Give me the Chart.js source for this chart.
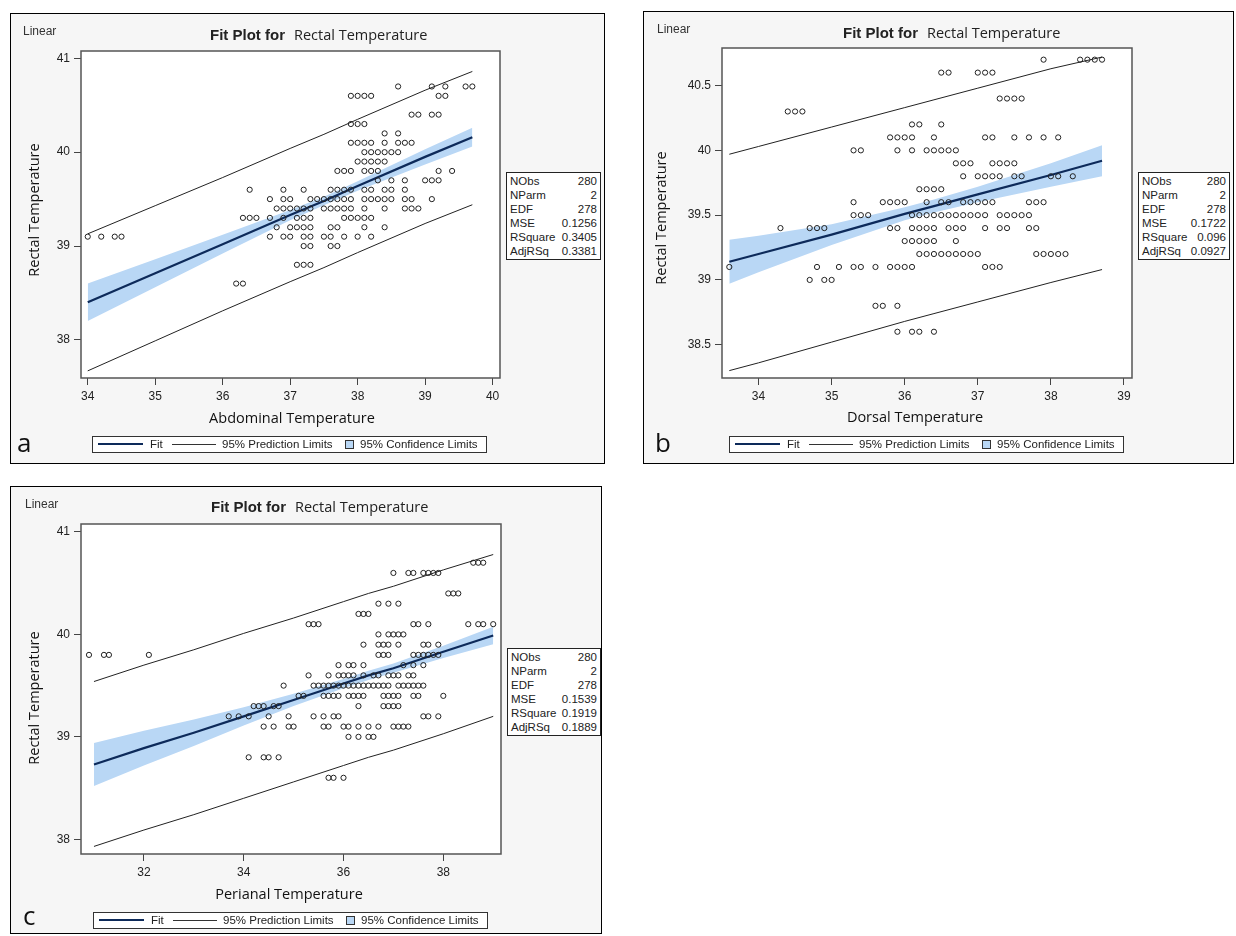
<!DOCTYPE html>
<html>
<head>
<meta charset="utf-8">
<script src="https://cdn.jsdelivr.net/npm/chart.js@4.4.0/dist/chart.umd.min.js"></script>
<style>
  body { margin: 0; background: #fff; width: 1236px; height: 936px; position: relative; overflow: hidden;
         font-family: "Liberation Sans", Arial, sans-serif; color: #222; }
  .panel { position: absolute; box-sizing: border-box; border: 1px solid #000; background: #f6f6f6; }
  .panel canvas { position: absolute; left: 0; top: 0; }
  .txt { position: absolute; white-space: nowrap; }
  .linear { font-size: 12px; color: #333; }
  .title b { font: bold 15px "Liberation Sans", Arial, sans-serif; }
  .title span { font: 14.5px "Open Sans", sans-serif; margin-left: 9px; }
  .axt { font: 14.5px "Open Sans", sans-serif; color: #111; }
  .letter { font: 26px "Open Sans", sans-serif; line-height: 26px; color: #111; }
  .stats { position: absolute; box-sizing: border-box; border: 1px solid #222; background: #fff;
           font-size: 11.5px; padding: 1px 3px; }
  .stats div { display: flex; justify-content: space-between; height: 14px; line-height: 14px; }
  .legend { position: absolute; box-sizing: border-box; width: 395px; height: 17px; border: 1px solid #333;
            background: #fff; font-size: 11.5px; }
  .legend > * { position: absolute; }
</style>
</head>
<body>
<script>
// Fit plots: rectal temperature against three skin sites
const NAVY = "#0d2a5a";
const BAND = "#b9d7f5";

const statNames = ["NObs", "NParm", "EDF", "MSE", "RSquare", "AdjRSq"];
const statsA = ["280", "2", "278", "0.1256", "0.3405", "0.3381"];
const statsB = ["280", "2", "278", "0.1722", "0.096", "0.0927"];
const statsC = ["280", "2", "278", "0.1539", "0.1919", "0.1889"];

// Panel a - abdominal temperature
const abdXTicks = [34, 35, 36, 37, 38, 39, 40];
const abdYTicks = [38, 39, 40, 41];
const abdRowY = [40.7, 40.6, 40.4, 40.3, 40.2, 40.1, 40.0, 39.9, 39.8, 39.7, 39.6, 39.5, 39.4, 39.3, 39.2, 39.1, 39.0, 38.8, 38.6];
const abdRowX = [
  [38.6, 39.1, 39.3, 39.6, 39.7],
  [37.9, 38.0, 38.1, 38.2, 39.2, 39.3],
  [38.8, 38.9, 39.1, 39.2],
  [37.9, 38.0, 38.1],
  [38.4, 38.6],
  [37.9, 38.0, 38.1, 38.2, 38.4, 38.6, 38.7, 38.8],
  [38.1, 38.2, 38.3, 38.4, 38.5, 38.6],
  [38.0, 38.1, 38.2, 38.3, 38.4],
  [37.7, 37.8, 37.9, 38.1, 38.2, 38.3, 39.2, 39.4],
  [38.3, 38.5, 38.7, 39.0, 39.1, 39.2],
  [36.4, 36.9, 37.2, 37.6, 37.7, 37.8, 37.9, 38.1, 38.2, 38.4, 38.5, 38.7],
  [36.7, 36.9, 37.0, 37.3, 37.4, 37.5, 37.6, 37.7, 37.8, 37.9, 38.1, 38.2, 38.3, 38.4, 38.5, 38.7, 38.8, 39.1],
  [36.8, 36.9, 37.0, 37.1, 37.2, 37.3, 37.5, 37.6, 37.7, 37.8, 37.9, 38.1, 38.4, 38.7, 38.8, 38.9],
  [36.3, 36.4, 36.5, 36.7, 36.9, 37.1, 37.2, 37.3, 37.8, 37.9, 38.0, 38.1, 38.2],
  [36.8, 37.0, 37.1, 37.2, 37.3, 37.6, 37.7, 38.1, 38.4],
  [34.0, 34.2, 34.4, 34.5, 36.7, 36.9, 37.0, 37.2, 37.3, 37.5, 37.6, 37.8, 38.0, 38.2],
  [37.2, 37.3, 37.6, 37.7],
  [37.1, 37.2, 37.3],
  [36.2, 36.3]
];
const abdFitX = [34, 35, 36, 37, 37.5, 38, 39, 39.7];
const abdFit = [38.40, 38.71, 39.02, 39.33, 39.48, 39.64, 39.95, 40.16];
const abdClLow = [38.20, 38.56, 38.92, 39.275, 39.435, 39.59, 39.87, 40.06];
const abdClHigh = [38.60, 38.86, 39.12, 39.385, 39.525, 39.69, 40.03, 40.26];
const abdPlLow = [37.67, 37.99, 38.31, 38.62, 38.77, 38.93, 39.24, 39.44];
const abdPlHigh = [39.13, 39.43, 39.73, 40.04, 40.19, 40.35, 40.66, 40.86];

// Panel b - dorsal temperature
const dorXTicks = [34, 35, 36, 37, 38, 39];
const dorYTicks = [38.5, 39, 39.5, 40, 40.5];
const dorRowY = [40.7, 40.6, 40.4, 40.3, 40.2, 40.1, 40.0, 39.9, 39.8, 39.7, 39.6, 39.5, 39.4, 39.3, 39.2, 39.1, 39.0, 38.8, 38.6];
const dorRowX = [
  [37.9, 38.4, 38.5, 38.6, 38.7],
  [36.5, 36.6, 37.0, 37.1, 37.2],
  [37.3, 37.4, 37.5, 37.6],
  [34.4, 34.5, 34.6],
  [36.1, 36.2, 36.5],
  [35.8, 35.9, 36.0, 36.1, 36.4, 37.1, 37.2, 37.5, 37.7, 37.9, 38.1],
  [35.3, 35.4, 35.9, 36.1, 36.3, 36.4, 36.5, 36.6, 36.7],
  [36.7, 36.8, 36.9, 37.2, 37.3, 37.4, 37.5],
  [36.8, 37.0, 37.1, 37.2, 37.3, 37.5, 37.6, 38.0, 38.1, 38.3],
  [36.2, 36.3, 36.4, 36.5],
  [35.3, 35.7, 35.8, 35.9, 36.0, 36.3, 36.5, 36.6, 36.8, 36.9, 37.0, 37.1, 37.2, 37.7, 37.8, 37.9],
  [35.3, 35.4, 35.5, 36.1, 36.2, 36.3, 36.4, 36.5, 36.6, 36.7, 36.8, 36.9, 37.0, 37.1, 37.3, 37.4, 37.5, 37.6, 37.7],
  [34.3, 34.7, 34.8, 34.9, 35.8, 35.9, 36.1, 36.2, 36.3, 36.4, 36.6, 36.7, 36.8, 37.1, 37.3, 37.4, 37.7, 37.8],
  [36.0, 36.1, 36.2, 36.3, 36.4, 36.7],
  [36.2, 36.3, 36.4, 36.5, 36.6, 36.7, 36.8, 36.9, 37.0, 37.8, 37.9, 38.0, 38.1, 38.2],
  [33.6, 34.8, 35.1, 35.3, 35.4, 35.6, 35.8, 35.9, 36.0, 36.1, 37.1, 37.2, 37.3],
  [34.7, 34.9, 35.0],
  [35.6, 35.7, 35.9],
  [35.9, 36.1, 36.2, 36.4]
];
const dorFitX = [33.6, 34, 35, 36, 36.4, 37, 38, 38.7];
const dorFit = [39.14, 39.20, 39.35, 39.51, 39.57, 39.66, 39.81, 39.92];
const dorClLow = [38.97, 39.06, 39.27, 39.46, 39.52, 39.60, 39.72, 39.80];
const dorClHigh = [39.31, 39.34, 39.43, 39.56, 39.62, 39.72, 39.90, 40.04];
const dorPlLow = [38.30, 38.36, 38.52, 38.68, 38.74, 38.83, 38.98, 39.08];
const dorPlHigh = [39.97, 40.03, 40.18, 40.33, 40.39, 40.48, 40.63, 40.72];

// Panel c - perianal temperature
const periXTicks = [32, 34, 36, 38];
const periYTicks = [38, 39, 40, 41];
const periRowY = [40.7, 40.6, 40.4, 40.3, 40.2, 40.1, 40.0, 39.9, 39.8, 39.7, 39.6, 39.5, 39.4, 39.3, 39.2, 39.1, 39.0, 38.8, 38.6];
const periRowX = [
  [38.6, 38.7, 38.8],
  [37.0, 37.3, 37.4, 37.6, 37.7, 37.8, 37.9],
  [38.1, 38.2, 38.3],
  [36.7, 36.9, 37.1],
  [36.3, 36.4, 36.5],
  [35.3, 35.4, 35.5, 37.4, 37.5, 37.7, 38.5, 38.7, 38.8, 39.0],
  [36.7, 36.9, 37.0, 37.1, 37.2],
  [36.4, 36.7, 36.8, 36.9, 37.1, 37.6, 37.7, 37.9],
  [30.9, 31.2, 31.3, 32.1, 36.7, 36.8, 36.9, 37.4, 37.5, 37.6, 37.7, 37.8, 37.9],
  [35.9, 36.1, 36.2, 36.4, 37.2, 37.4, 37.6],
  [35.3, 35.7, 35.9, 36.0, 36.1, 36.2, 36.4, 36.6, 36.7, 36.9, 37.0, 37.1, 37.3, 37.4],
  [34.8, 35.4, 35.5, 35.6, 35.7, 35.8, 35.9, 36.0, 36.1, 36.2, 36.3, 36.4, 36.5, 36.6, 36.7, 36.8, 36.9, 37.1, 37.2, 37.3, 37.4, 37.5, 37.6],
  [35.1, 35.2, 35.6, 35.7, 35.8, 35.9, 36.1, 36.2, 36.3, 36.4, 36.8, 36.9, 37.0, 37.1, 37.4, 37.5, 38.0],
  [34.2, 34.3, 34.4, 34.6, 34.7, 36.3, 36.8, 36.9, 37.0, 37.1],
  [33.7, 33.9, 34.1, 34.5, 34.9, 35.4, 35.6, 35.8, 35.9, 37.6, 37.7, 37.9],
  [34.4, 34.6, 34.9, 35.0, 35.6, 35.7, 36.0, 36.1, 36.3, 36.5, 36.7, 37.0, 37.1, 37.2, 37.3],
  [36.1, 36.3, 36.5, 36.6],
  [34.1, 34.4, 34.5, 34.7],
  [35.7, 35.8, 36.0]
];
const periFitX = [31, 32, 33, 34, 35, 36, 36.5, 37, 38, 39];
const periFit = [38.73, 38.89, 39.04, 39.20, 39.36, 39.52, 39.60, 39.67, 39.83, 39.99];
const periClLow = [38.52, 38.72, 38.91, 39.11, 39.30, 39.475, 39.555, 39.625, 39.77, 39.905];
const periClHigh = [38.94, 39.06, 39.17, 39.29, 39.42, 39.565, 39.645, 39.715, 39.89, 40.075];
const periPlLow = [37.93, 38.09, 38.24, 38.40, 38.56, 38.72, 38.80, 38.87, 39.03, 39.20];
const periPlHigh = [39.54, 39.70, 39.85, 40.01, 40.16, 40.32, 40.40, 40.47, 40.63, 40.78];

// white plot area + frame
const framePlugin = {
  id: "frame",
  beforeDraw(chart) {
    const { ctx, chartArea: a } = chart;
    ctx.save();
    ctx.fillStyle = "#fff";
    ctx.fillRect(a.left, a.top, a.width, a.height);
    ctx.restore();
  },
  afterDraw(chart) {
    const { ctx, chartArea: a } = chart;
    ctx.save();
    ctx.strokeStyle = "#555";
    ctx.lineWidth = 1.5;
    ctx.strokeRect(a.left, a.top, a.width, a.height);
    ctx.restore();
  }
};

function el(cls, html, css) {
  const d = document.createElement("div");
  d.className = cls;
  d.innerHTML = html;
  Object.assign(d.style, css);
  document.body.appendChild(d);
  return d;
}

function makePanel(p) {
  const panel = el("panel", "", { left: p.box[0] + "px", top: p.box[1] + "px", width: p.box[2] + "px", height: p.box[3] + "px" });
  const cv = document.createElement("canvas");
  cv.width = p.box[2] - 2;
  cv.height = p.box[3] - 2;
  panel.appendChild(cv);

  const pts = [];
  p.rowY.forEach((y, i) => p.rowX[i].forEach(x => pts.push({ x: x, y: y })));
  const xy = ys => p.fitX.map((x, i) => ({ x: x, y: ys[i] }));
  const tickFont = { family: "Liberation Sans", size: 12 };
  const grid = { drawOnChartArea: false, drawTicks: true, tickLength: 7, color: "#444", lineWidth: 1 };

  new Chart(cv, {
    type: "scatter",
    data: {
      datasets: [
        { data: pts, order: 0, pointRadius: 2.6, pointBorderWidth: 1, borderColor: "#222", backgroundColor: "rgba(0,0,0,0)" },
        { type: "line", data: xy(p.fit), order: 1, borderColor: NAVY, borderWidth: 2.2, pointRadius: 0 },
        { type: "line", data: xy(p.plLow), order: 2, borderColor: "#222", borderWidth: 1, pointRadius: 0 },
        { type: "line", data: xy(p.plHigh), order: 2, borderColor: "#222", borderWidth: 1, pointRadius: 0 },
        { type: "line", data: xy(p.clLow), order: 3, borderColor: "rgba(0,0,0,0)", pointRadius: 0 },
        { type: "line", data: xy(p.clHigh), order: 3, borderColor: "rgba(0,0,0,0)", pointRadius: 0, fill: "-1", backgroundColor: BAND }
      ]
    },
    options: {
      responsive: false,
      animation: false,
      devicePixelRatio: 1,
      layout: { padding: { left: 0, top: p.area.top, right: p.area.right, bottom: 0 } },
      plugins: { legend: { display: false }, tooltip: { enabled: false } },
      scales: {
        x: {
          type: "linear", min: p.xRange[0], max: p.xRange[1],
          afterBuildTicks: s => { s.ticks = p.xTicks.map(v => ({ value: v })); },
          afterFit: s => { s.height = p.area.bottom; },
          grid: grid, border: { display: false },
          ticks: { font: tickFont, color: "#222", padding: 4, maxRotation: 0, callback: v => String(v) }
        },
        y: {
          type: "linear", min: p.yRange[0], max: p.yRange[1],
          afterBuildTicks: s => { s.ticks = p.yTicks.map(v => ({ value: v })); },
          afterFit: s => { s.width = p.area.left; },
          grid: grid, border: { display: false },
          ticks: { font: tickFont, color: "#222", padding: 4, callback: v => String(v) }
        }
      }
    },
    plugins: [framePlugin]
  });

  // texts
  el("txt linear", "Linear", { left: p.linear[0] + "px", top: p.linear[1] + "px", transform: "translateY(-50%)" });
  el("txt title", "<b>Fit Plot for</b><span>Rectal Temperature</span>",
     { left: p.title[0] + "px", top: p.title[1] + "px", transform: "translateY(-50%)" });
  el("txt axt", "Rectal Temperature",
     { left: p.yTitle[0] + "px", top: p.yTitle[1] + "px", transform: "translate(-50%,-50%) rotate(-90deg)" });
  el("txt axt", p.xLabel, { left: p.xTitle[0] + "px", top: p.xTitle[1] + "px", transform: "translate(-50%,-50%)" });
  el("txt letter", p.letter, { left: p.letterPos[0] + "px", top: p.letterPos[1] + "px" });

  const st = el("stats", "", { left: p.stats[0] + "px", top: p.stats[1] + "px", width: p.stats[2] + "px" });
  statNames.forEach((n, i) => {
    const r = document.createElement("div");
    r.innerHTML = "<span>" + n + "</span><span>" + p.statVals[i] + "</span>";
    st.appendChild(r);
  });

  const lg = el("legend", "", { left: p.legend[0] + "px", top: p.legend[1] + "px" });
  lg.innerHTML =
    '<div style="left:5px;top:6px;width:45px;height:2px;background:' + NAVY + '"></div>' +
    '<div style="left:57px;top:1px">Fit</div>' +
    '<div style="left:79px;top:7px;width:44px;height:1px;background:#333"></div>' +
    '<div style="left:129px;top:1px">95% Prediction Limits</div>' +
    '<div style="left:252px;top:3px;width:7px;height:7px;border:1px solid #333;background:' + BAND + '"></div>' +
    '<div style="left:267px;top:1px">95% Confidence Limits</div>';
}

makePanel({
  box: [10, 13, 595, 451], area: { left: 70, top: 37, right: 104, bottom: 85 },
  xRange: [33.9, 40.11], yRange: [37.594, 41.078], xTicks: abdXTicks, yTicks: abdYTicks,
  rowY: abdRowY, rowX: abdRowX, fitX: abdFitX, fit: abdFit, clLow: abdClLow, clHigh: abdClHigh, plLow: abdPlLow, plHigh: abdPlHigh,
  linear: [23, 31], title: [210, 34], yTitle: [33, 210], xTitle: [292, 417], xLabel: "Abdominal Temperature",
  letter: "a", letterPos: [17, 429], stats: [506, 172, 95], statVals: statsA, legend: [92, 436]
});

makePanel({
  box: [643, 11, 591, 453], area: { left: 78, top: 36, right: 101, bottom: 85 },
  xRange: [33.5, 39.11], yRange: [38.243, 40.79], xTicks: dorXTicks, yTicks: dorYTicks,
  rowY: dorRowY, rowX: dorRowX, fitX: dorFitX, fit: dorFit, clLow: dorClLow, clHigh: dorClHigh, plLow: dorPlLow, plHigh: dorPlHigh,
  linear: [657, 29], title: [843, 32], yTitle: [660, 218], xTitle: [915, 416], xLabel: "Dorsal Temperature",
  letter: "b", letterPos: [655, 429], stats: [1138, 172, 92], statVals: statsB, legend: [729, 436]
});

makePanel({
  box: [10, 486, 592, 448], area: { left: 70, top: 37, right: 100, bottom: 79 },
  xRange: [30.74, 39.156], yRange: [37.856, 41.078], xTicks: periXTicks, yTicks: periYTicks,
  rowY: periRowY, rowX: periRowX, fitX: periFitX, fit: periFit, clLow: periClLow, clHigh: periClHigh, plLow: periPlLow, plHigh: periPlHigh,
  linear: [25, 504], title: [211, 506], yTitle: [33, 698], xTitle: [289, 893], xLabel: "Perianal Temperature",
  letter: "c", letterPos: [23, 902], stats: [507, 648, 94], statVals: statsC, legend: [93, 912]
});
</script>
</body>
</html>
